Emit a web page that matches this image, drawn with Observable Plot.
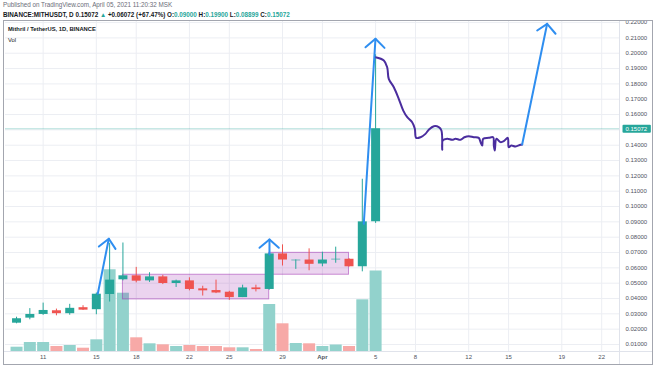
<!DOCTYPE html>
<html><head><meta charset="utf-8">
<script src="https://cdn.jsdelivr.net/npm/d3@7"></script>
<script src="https://cdn.jsdelivr.net/npm/@observablehq/plot@0.6"></script>
<style>
body{margin:0;background:#fff;font-family:"Liberation Sans",Arial,sans-serif;}
#wrap{position:relative;width:654px;height:366px;overflow:hidden;background:#fff;}
.layer{position:absolute;left:4px;top:21px;}
.layer svg{display:block;}
.txt{position:absolute;white-space:nowrap;line-height:1;}
#pub{left:3px;top:2px;font-size:6.3px;color:#6a6d78;}
#sym{left:3px;top:12px;font-size:6.3px;color:#131722;font-weight:bold;}
#sym .up{color:#26a69a;}
#title{left:8px;top:27px;font-size:5.8px;color:#131722;font-weight:bold;}
#vol{left:8px;top:37.5px;font-size:5.8px;color:#131722;}
#frame{position:absolute;left:3px;top:20px;width:650px;height:345px;box-sizing:border-box;border:1px solid #a3a6af;pointer-events:none;}
#vsep{position:absolute;left:619px;top:21px;width:1px;height:343px;background:#e0e3eb;}
#hsep{position:absolute;left:4px;top:351px;width:648px;height:1px;background:#e0e3eb;}
</style>
</head><body>
<div id="wrap">
  <div class="txt" id="pub">Published on TradingView.com, April 05, 2021 11:20:32 MSK</div>
  <div class="txt" id="sym">BINANCE:MITHUSDT, D 0.15072 <span class="up">▲</span> +0.06072 (+67.47%) O:<span class="up">0.09000</span> H:<span class="up">0.19900</span> L:<span class="up">0.08899</span> C:<span class="up">0.15072</span></div>
  <div class="layer" id="l1"></div>
  <div class="layer" id="l2"></div>
  <div class="layer" id="l3"></div>
  <div id="vsep"></div>
  <div id="hsep"></div>
  <div class="txt" id="title">Mithril / TetherUS, 1D, BINANCE</div>
  <div class="txt" id="vol">Vol</div>
  <div id="frame"></div>
</div>
<script>
// ---- data ----
const dates = ["2021-03-09","2021-03-10","2021-03-11","2021-03-12","2021-03-13","2021-03-14","2021-03-15","2021-03-16","2021-03-17","2021-03-18","2021-03-19","2021-03-20","2021-03-21","2021-03-22","2021-03-23","2021-03-24","2021-03-25","2021-03-26","2021-03-27","2021-03-28","2021-03-29","2021-03-30","2021-03-31","2021-04-01","2021-04-02","2021-04-03","2021-04-04","2021-04-05"];
const open  = [0.0239,0.0272,0.0296,0.0320,0.0301,0.0340,0.0327,0.0426,0.0522,0.0548,0.0515,0.0541,0.0498,0.0515,0.0463,0.0452,0.0441,0.0406,0.0469,0.0459,0.0691,0.0646,0.0651,0.0625,0.0652,0.0656,0.0607,0.0900];
const high  = [0.0278,0.0334,0.0370,0.0331,0.0362,0.0353,0.0436,0.0760,0.0762,0.0603,0.0568,0.0551,0.0520,0.0535,0.0480,0.0520,0.0447,0.0487,0.0487,0.0695,0.0750,0.0652,0.0724,0.0702,0.0735,0.0660,0.1178,0.1990];
const low   = [0.0235,0.0261,0.0290,0.0287,0.0291,0.0322,0.0294,0.0377,0.0515,0.0502,0.0505,0.0491,0.0472,0.0450,0.0416,0.0432,0.0388,0.0406,0.0443,0.0454,0.0612,0.0590,0.0581,0.0607,0.0630,0.0605,0.0574,0.08899];
const close = [0.0268,0.0296,0.0322,0.0301,0.0336,0.0324,0.0428,0.0520,0.0548,0.0513,0.0541,0.0498,0.0515,0.0459,0.0450,0.0436,0.0406,0.0469,0.0458,0.0691,0.0651,0.0650,0.0623,0.0651,0.0656,0.0607,0.0900,0.15072];
const volume = [0.43,0.90,0.90,0.50,0.60,0.33,1.17,8.17,5.83,1.37,0.77,0.67,0.50,0.60,0.50,0.50,0.37,0.37,0.20,4.70,2.77,0.80,0.77,0.50,0.65,0.50,5.17,8.05]; // millions

const tickDates  = ["2021-03-11","2021-03-15","2021-03-18","2021-03-22","2021-03-25","2021-03-29","2021-04-01","2021-04-05","2021-04-08","2021-04-12","2021-04-15","2021-04-19","2021-04-22"];
const tickLabels = ["11","15","18","22","25","29","Apr","5","8","12","15","19","22"];
const priceTicks = [0.01,0.02,0.03,0.04,0.05,0.06,0.07,0.08,0.09,0.10,0.11,0.12,0.13,0.14,0.15,0.16,0.17,0.18,0.19,0.20,0.21,0.22];
const priceLabelTicks = [0.01,0.02,0.03,0.04,0.05,0.06,0.07,0.08,0.09,0.10,0.11,0.12,0.13,0.14,0.16,0.17,0.18,0.19,0.20,0.21,0.22];
const lastPrice = 0.15072;

// drawings (days after Mar 9, price)
const boxStart = ["2021-03-17","2021-03-28"];
const boxEnd   = ["2021-03-28","2021-04-03"];
const boxLow   = [0.0394,0.0555];
const boxHigh  = [0.0555,0.0698];
const arrowPaths = [
  [[6.11,0.0431],[6.94,0.0790]],
  [[6.19,0.0739],[6.94,0.0790],[7.44,0.0724]],
  [[19.02,0.0687],[19.02,0.0785]],
  [[18.27,0.0731],[19.02,0.0785],[19.72,0.0731]],
  [[26.11,0.0887],[26.99,0.2094]],
  [[26.24,0.2039],[26.99,0.2094],[27.67,0.2035]],
  [[38.02,0.1405],[39.90,0.2192]],
  [[39.15,0.2148],[39.90,0.2192],[40.53,0.2127]]
];
const handDrawn = [[26.99,0.1974],[27.62,0.1953],[27.87,0.1909],[27.99,0.1833],[28.37,0.1778],[28.74,0.1703],[29.08,0.1626],[29.38,0.1583],[29.75,0.1550],[29.95,0.1507],[30.05,0.1448],[30.38,0.1452],[30.75,0.1474],[31.0,0.1501],[31.38,0.1524],[31.75,0.1518],[31.95,0.1496],[32.01,0.1370],[32.05,0.1431],[32.38,0.1442],[32.76,0.1435],[33.01,0.1442],[33.38,0.1435],[33.68,0.1452],[34.01,0.1459],[34.38,0.1452],[34.76,0.1448],[34.89,0.1420],[35.02,0.1398],[35.09,0.1442],[35.51,0.1448],[35.84,0.1452],[35.89,0.1398],[35.96,0.1366],[36.09,0.1442],[36.39,0.1420],[36.64,0.1426],[36.94,0.1448],[37.01,0.1387],[37.20,0.1398],[37.52,0.1392],[37.89,0.1403],[38.02,0.1405]];

// ---- build ----
const DAY = 864e5;
const t0 = Date.UTC(2021,2,9);
const toDate = d => new Date(t0 + d * DAY);
const parse = s => new Date(s + "T00:00:00Z");

const candles = dates.map((d, i) => ({date: parse(d), open: open[i], high: high[i], low: low[i], close: close[i], volume: volume[i]}));
const up = d => d.close >= d.open;
const GREEN = "#26a69a", RED = "#ef5350";

const ticks = tickDates.map(parse);
const labelMap = new Map(ticks.map((t, i) => [+t, tickLabels[i]]));
const dayTicks = ticks.filter(t => labelMap.get(+t) !== "Apr");
const monthTicks = ticks.filter(t => labelMap.get(+t) === "Apr");

const boxes = boxStart.map((s, i) => ({x1: parse(s), x2: parse(boxEnd[i]), y1: boxLow[i], y2: boxHigh[i]}));
const arrowPts = arrowPaths.flatMap((p, k) => p.map(([d, v]) => ({id: k, x: toDate(d), y: v})));
const curvePts = handDrawn.map(([d, v]) => ({x: toDate(d), y: v}));

const xDomain = [toDate(-0.83), toDate(45.34)];
const yDomain = [0.00543, 0.2207];
const common = {
  width: 648, height: 343,
  marginLeft: 1, marginRight: 33, marginTop: 0, marginBottom: 13,
  style: {background: "transparent", fontFamily: "'Liberation Sans', Arial, sans-serif", fontSize: "6px", overflow: "visible"}
};

// layer 1: grid + axes
const g = Plot.plot({
  ...common,
  x: {type: "utc", domain: xDomain},
  y: {domain: yDomain},
  marks: [
    Plot.gridX(ticks, {stroke: "#eceef3", strokeOpacity: 1}),
    Plot.gridY(priceTicks, {stroke: "#eceef3", strokeOpacity: 1}),
    Plot.axisX(dayTicks, {tickSize: 0, tickPadding: 3, fontSize: 6, fill: "#50535e", label: null, tickFormat: d => labelMap.get(+d)}),
    Plot.axisX(monthTicks, {tickSize: 0, tickPadding: 3, fontSize: 6, fill: "#50535e", fontWeight: "bold", label: null, tickFormat: d => labelMap.get(+d)}),
    Plot.axisY(priceLabelTicks, {anchor: "right", tickSize: 0, tickPadding: 6, fontSize: 6, fill: "#50535e", label: null, tickFormat: d3.format(".5f")})
  ]
});
document.getElementById("l1").append(g);

// layer 2: volume
const v = Plot.plot({
  ...common,
  x: {type: "utc", domain: xDomain, axis: null},
  y: {domain: [0, 33], axis: null},
  color: {type: "identity"},
  marks: [
    Plot.ruleX(candles, {x: "date", y1: 0, y2: "volume", stroke: d => up(d) ? "#92d2cc" : "#f7a9a7", strokeWidth: 12})
  ]
});
document.getElementById("l2").append(v);

// layer 3: price
const p = Plot.plot({
  ...common,
  x: {type: "utc", domain: xDomain, axis: null},
  y: {domain: yDomain, axis: null},
  color: {type: "identity"},
  marks: [
    Plot.ruleY([lastPrice], {stroke: GREEN, strokeOpacity: 0.35}),
    Plot.rect(boxes, {x1: "x1", x2: "x2", y1: "y1", y2: "y2", fill: "#9c27b0", fillOpacity: 0.2, stroke: "#9c27b0", strokeOpacity: 0.5}),
    Plot.ruleX(candles, {x: "date", y1: "low", y2: "high", stroke: d => up(d) ? GREEN : RED, strokeWidth: 1}),
    Plot.ruleX(candles, {x: "date", y1: "open", y2: "close", stroke: d => up(d) ? GREEN : RED, strokeWidth: 9}),
    Plot.line(curvePts, {x: "x", y: "y", stroke: "#4a2d9e", strokeWidth: 2, curve: "catmull-rom", clip: true}),
    Plot.line(arrowPts, {x: "x", y: "y", z: "id", stroke: "#2f8ef0", strokeWidth: 2, strokeLinecap: "round", strokeLinejoin: "round", clip: true}),
    Plot.text([lastPrice], {y: d => d, frameAnchor: "right", dx: 6, textAnchor: "start", fill: "white", fontSize: 6, text: d => d3.format(".5f")(d)})
  ]
});
document.getElementById("l3").append(p);

// teal background box behind the last-price label
const lbl = Array.from(p.querySelectorAll("text")).find(t => t.textContent === "0.15072");
if (lbl) {
  const b = lbl.getBBox();
  const r = document.createElementNS("http://www.w3.org/2000/svg", "rect");
  r.setAttribute("x", b.x - 3); r.setAttribute("y", b.y - 1);
  r.setAttribute("width", b.width + 6); r.setAttribute("height", b.height + 2);
  r.setAttribute("fill", GREEN); r.setAttribute("rx", 1);
  const tr = lbl.getAttribute("transform");
  if (tr) r.setAttribute("transform", tr);
  lbl.parentNode.insertBefore(r, lbl);
}
</script>
</body></html>
